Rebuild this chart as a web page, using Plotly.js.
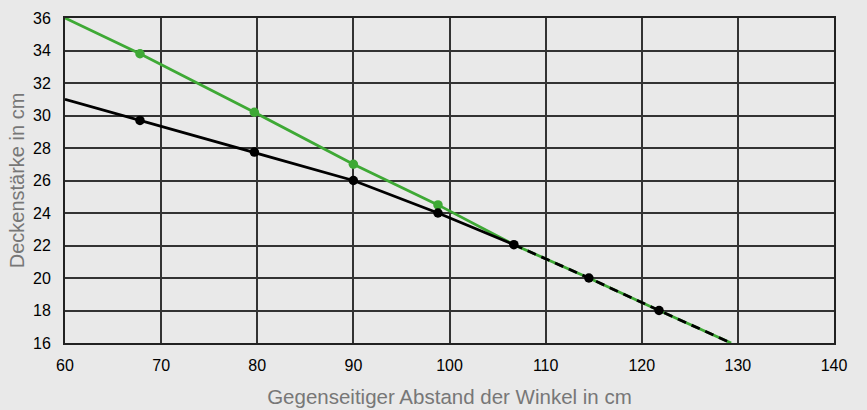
<!DOCTYPE html>
<html>
<head>
<meta charset="utf-8">
<script src="https://cdn.plot.ly/plotly-3.0.1.min.js"></script>
<style>
html,body{margin:0;padding:0;background:#e9e9e9;}
#chart{width:867px;height:410px;}
</style>
</head>
<body>
<div id="chart"></div>
<script>
// Green series (line through all points, markers on measured points)
const greenX = [60, 67.8, 79.7, 90, 98.8, 106.7, 114.5, 121.8, 129.3];
const greenY = [36, 33.8, 30.2, 27, 24.5, 22.05, 20, 18, 16];
const greenMarkX = [67.8, 79.7, 90, 98.8];
const greenMarkY = [33.8, 30.2, 27, 24.5];

// Black series
const blackSolidX = [60, 67.8, 79.7, 90, 98.8, 106.7];
const blackSolidY = [31, 29.7, 27.75, 26, 24, 22.05];
const blackDashX = [106.7, 114.5, 121.8, 129.3];
const blackDashY = [22.05, 20, 18, 16];
const blackMarkX = [67.8, 79.7, 90, 98.8, 106.7, 114.5, 121.8];
const blackMarkY = [29.7, 27.75, 26, 24, 22.05, 20, 18];

const xTicks = [60, 70, 80, 90, 100, 110, 120, 130, 140];
const yTicks = [16, 18, 20, 22, 24, 26, 28, 30, 32, 34, 36];

const GREEN = '#3ea935';
const BLACK = '#000000';
const FONT = '"Liberation Sans", Arial, sans-serif';

const traces = [
  {x: greenX, y: greenY, mode: 'lines', line: {color: GREEN, width: 2.8}},
  {x: greenMarkX, y: greenMarkY, mode: 'markers', marker: {color: GREEN, size: 9.5}},
  {x: blackSolidX, y: blackSolidY, mode: 'lines', line: {color: BLACK, width: 2.8}},
  {x: blackDashX, y: blackDashY, mode: 'lines', line: {color: BLACK, width: 2.8, dash: '9px,6px'}},
  {x: blackMarkX, y: blackMarkY, mode: 'markers', marker: {color: BLACK, size: 9.5}}
];

const layout = {
  width: 867, height: 410,
  margin: {l: 65, r: 33, t: 18, b: 67},
  paper_bgcolor: '#e9e9e9',
  plot_bgcolor: '#e9e9e9',
  showlegend: false,
  font: {family: FONT, color: '#000', size: 16},
  xaxis: {
    range: [60, 140], tickvals: xTicks, ticktext: xTicks.map(String),
    showgrid: true, gridcolor: '#333', gridwidth: 2,
    showline: true, linecolor: '#222', linewidth: 2, mirror: true,
    zeroline: false, ticks: 'outside', ticklen: 7, tickcolor: 'rgba(0,0,0,0)',
    tickfont: {family: FONT, size: 16, color: '#000'},
    title: {text: 'Gegenseitiger Abstand der Winkel in cm', font: {family: FONT, size: 20.5, color: '#777'}, standoff: 16}
  },
  yaxis: {
    range: [16, 36], tickvals: yTicks, ticktext: yTicks.map(String),
    showgrid: true, gridcolor: '#333', gridwidth: 2,
    showline: true, linecolor: '#222', linewidth: 2, mirror: true,
    zeroline: false, ticks: 'outside', ticklen: 9, tickcolor: 'rgba(0,0,0,0)',
    tickfont: {family: FONT, size: 16, color: '#000'},
    title: {text: 'Deckenstärke in cm', font: {family: FONT, size: 20, color: '#777'}, standoff: 3}
  }
};

Plotly.newPlot('chart', traces, layout, {displayModeBar: false, staticPlot: true});
</script>
</body>
</html>
